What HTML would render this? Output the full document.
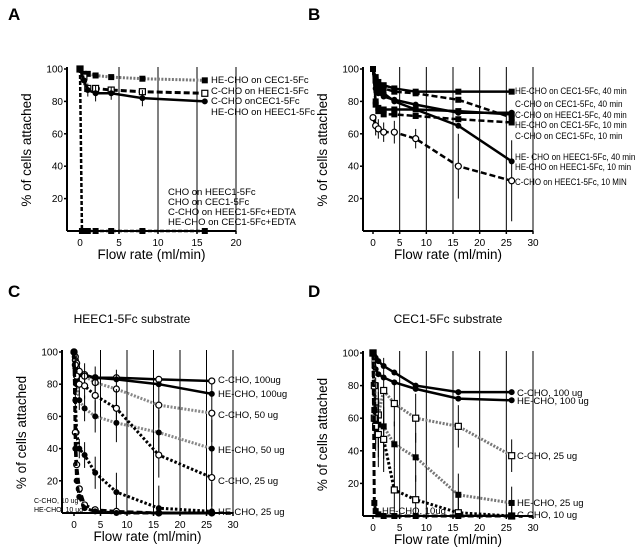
<!DOCTYPE html>
<html><head><meta charset="utf-8"><style>
body{margin:0;background:#fff}
svg{display:block;font-family:"Liberation Sans",sans-serif}
</style></head><body>
<svg id="fig" width="640" height="550" viewBox="0 0 640 550"></svg>
<script>
// ---- data ----
const xA=[0,0.5,1,2,4,8,16];
const aHeCec=[100,97,97,96,95,94,93];
const aCHeec=[100,95,88,88,87,86,85];
const aCCec=[100,93,87,85,85,82,80];
const aCCecErr=[0,3,4,5,4,5,1];
const aZeroX=[0,0.25,0.5,1,2,4,8,16];
const aZero=[100,0,0,0,0,0,0,0];

const xB=[0,0.5,1,2,4,8,16,26];
const b1=[100,95,92,90,88,86,86,86];
const b2=[100,93,90,88,86,85,81,70];
const b3=[100,88,85,83,81,78,73,73];
const b4=[100,92,88,85,80,75,65,43];
const b5=[100,80,76,75,75,75,74,72];
const b6=[100,78,74,72,72,71,69,67];
const b7=[70,65,63,61,61,57,40,31];
const bErr=[0,6,6,6,7,6,20,25];

const xC=[0,0.25,0.5,1,2,4,8,16,26];
const c1=[100,95,90,87,86,84,84,83,82];
const c2=[100,92,88,86,85,84,83,80,74];
const c3=[100,97,93,88,85,81,77,67,62];
const c4=[100,90,80,70,65,60,56,50,40];
const c5=[100,92,85,80,79,73,65,36,22];
const c6=[100,70,50,40,36,25,13,3,1];
const c7=[100,50,30,15,5,2,1,0,0];
const c8=[100,40,20,10,3,1,0,0,0];
const cErr=[0,4,5,6,8,10,12,14,18];

const xD=[0,0.25,0.5,1,2,4,8,16,26];
const d1=[100,98,97,95,92,88,80,76,76];
const d2=[100,95,90,87,85,82,78,72,71];
const d3=[100,80,70,62,77,69,60,55,37];
const d4=[100,65,59,56,55,44,36,13,8];
const d5=[100,60,55,50,47,16,10,2,0];
const d6=[100,8,3,1,0,0,0,0,0];
const dErr=[0,10,15,20,20,14,15,13,10];

const xTicksA=[0,5,10,15,20];
const xTicks30=[0,5,10,15,20,25,30];
const yTicks=[20,40,60,80,100];

const NS="http://www.w3.org/2000/svg";
const svg=document.getElementById('fig');
function el(tag,attrs,parent){const e=document.createElementNS(NS,tag);for(const k in attrs)e.setAttribute(k,attrs[k]);(parent||svg).appendChild(e);return e;}
function txt(s,x,y,size,extra,parent){const t=el('text',Object.assign({x:x,y:y,'font-size':size},extra||{}),parent);t.textContent=s;return t;}

function panel(p){
  const g=el('g',{});
  
  
  const sx=v=>p.x0+(v/p.xmax)*(p.x1-p.x0);
  const sy=v=>p.y0+(1-v/100)*(p.y0b-p.y0);
  const bottom=p.y0b;
  const L=txt(p.id,p.lx,p.ly,17,{'font-weight':'bold'},g);
  
  if(p.title){const T=txt(p.title,p.tx,p.ty,12,{'text-anchor':'middle'},g);
    }
  p.xticks.forEach(v=>{if(v>0){const l=el('line',{x1:sx(v),x2:sx(v),y1:p.y0-2,y2:bottom,stroke:'#000','stroke-width':1},g);
    }});
  const ya=el('line',{x1:p.ax,x2:p.ax,y1:p.y0-2,y2:bottom,stroke:'#000','stroke-width':2},g);
  
  const xa=el('line',{x1:p.ax,x2:sx(p.xmax),y1:bottom,y2:bottom,stroke:'#000','stroke-width':2},g);
  
  yTicks.forEach(v=>{el('line',{x1:p.ax-3,x2:p.ax,y1:sy(v),y2:sy(v),stroke:'#000','stroke-width':1.5},g);
    const t=txt(String(v),p.ax-4,sy(v)+3.5,10,{'text-anchor':'end'},g);
    });
  p.xticks.forEach(v=>{el('line',{x1:sx(v),x2:sx(v),y1:bottom,y2:bottom+3,stroke:'#000','stroke-width':1.5},g);
    const t=txt(String(v),sx(v),bottom+15,10,{'text-anchor':'middle'},g);
    });
  const xt=txt('Flow rate (ml/min)',(p.ax+sx(p.xmax))/2,bottom+28,13.5,{'text-anchor':'middle'},g);
  
  const cy=(p.y0+bottom)/2, cx=p.ax-36;
  const yt=txt('% of cells attached',cx,cy,13.5,{'text-anchor':'middle',transform:'rotate(-90 '+cx+' '+cy+')'},g);
  
  p.series.forEach((s,i)=>{
    const sg=el('g',{},g);
    
    
    const col=s.color||'#000';
    const pts=s.x.map((x,j)=>sx(x)+','+sy(s.y[j])).join(' ');
    const line=el('polyline',{points:pts,fill:'none',stroke:col,'stroke-width':s.w||2.5,'stroke-dasharray':s.dash||'none'},sg);
    
    s.x.forEach((x,j)=>{
      const X=sx(x),Y=sy(s.y[j]);
      if(s.err&&s.err[j]){const e=el('line',{x1:X,x2:X,y1:sy(Math.min(100,s.y[j]+s.err[j])),y2:sy(Math.max(0,s.y[j]-s.err[j])),stroke:'#000','stroke-width':1},sg);
        }
      let m;
      const r=s.r||3;
      if(s.m==='sq')m=el('rect',{x:X-r,y:Y-r,width:2*r,height:2*r,fill:'#000'},sg);
      else if(s.m==='osq')m=el('rect',{x:X-r,y:Y-r,width:2*r,height:2*r,fill:'#fff',stroke:'#000','stroke-width':1.2},sg);
      else if(s.m==='oc')m=el('circle',{cx:X,cy:Y,r:r,fill:'#fff',stroke:'#000','stroke-width':1.2},sg);
      else m=el('circle',{cx:X,cy:Y,r:r,fill:'#000'},sg);
      
    });
  });
  p.labels.forEach(l=>{
    const extra={};
    if(p.cw&&!l[3]){extra.textLength=(l[0].length*p.cw).toFixed(1);extra.lengthAdjust='spacingAndGlyphs';}
    const t=txt(l[0],l[1],l[2],l[3]||(p.lfs||9.5),extra,g);
    });
}

const DOT='2,1.5', DASH='6,3';
panel({id:'A',lx:8,ly:20,ax:67,x0:80,x1:236,xmax:20,y0:69,y0b:231,xticks:xTicksA,
 series:[
  {x:xA,y:aHeCec,dash:DOT,color:'#777',m:'sq',w:3},
  {x:xA,y:aCHeec,dash:DASH,m:'osq',w:3},
  {x:xA,y:aCCec,err:aCCecErr,m:'c',w:2.5},
  {x:aZeroX,y:aZero,dash:'4,2',m:'sq',w:2.5}],
 labels:[['HE-CHO on CEC1-5Fc',211,83],['C-CHO on HEEC1-5Fc',211,94],['C-CHO onCEC1-5Fc',211,104],['HE-CHO on HEEC1-5Fc',211,115],
  ['CHO on HEEC1-5Fc',168,195],['CHO on CEC1-5Fc',168,205],['C-CHO on HEEC1-5Fc+EDTA',168,215],['HE-CHO on CEC1-5Fc+EDTA',168,225]]});

panel({id:'B',lx:308,ly:20,ax:363,x0:373,x1:533,xmax:30,y0:69,y0b:231,xticks:xTicks30,cw:4.3,lfs:9,
 series:[
  {x:xB,y:b1,m:'sq'},
  {x:xB,y:b2,dash:DASH,m:'sq'},
  {x:xB,y:b3,m:'c'},
  {x:xB,y:b4,m:'c'},
  {x:xB,y:b5,m:'sq'},
  {x:xB,y:b6,dash:DASH,m:'sq'},
  {x:xB,y:b7,err:bErr,dash:DASH,m:'oc'}],
 labels:[['HE-CHO on CEC1-5Fc, 40 min',515,94],['C-CHO on CEC1-5Fc, 40 min',515,107],['C-CHO on HEEC1-5Fc, 40 min',515,118],
  ['HE-CHO on CEC1-5Fc, 10 min',515,128],['C-CHO on CEC1-5Fc, 10 min',515,139],['HE- CHO on HEEC1-5Fc, 40 min',515,160],
  ['HE-CHO on HEEC1-5Fc, 10 min',515,170],['C-CHO on HEEC1-5Fc, 10 MIN',515,185]]});

panel({id:'C',lx:8,ly:297,ax:62,x0:74,x1:233,xmax:30,y0:352,y0b:513,xticks:xTicks30,title:'HEEC1-5Fc substrate',tx:132,ty:323,
 series:[
  {x:xC,y:c1,m:'oc'},
  {x:xC,y:c2,m:'c'},
  {x:xC,y:c3,err:cErr,dash:DOT,color:'#888',m:'oc',w:3},
  {x:xC,y:c4,err:cErr,dash:DOT,color:'#888',m:'c',w:3},
  {x:xC,y:c5,err:cErr,dash:'2.5,2',m:'oc',w:3},
  {x:xC,y:c6,err:cErr,dash:'2.5,2',m:'c',w:3},
  {x:xC,y:c7,dash:DASH,m:'oc',w:3},
  {x:xC,y:c8,dash:DASH,m:'c',w:3}],
 labels:[['C-CHO, 100ug',218,383],['HE-CHO, 100ug',218,397],['C-CHO, 50 ug',218,418],['HE-CHO, 50 ug',218,453],
  ['C-CHO, 25 ug',218,484],['HE-CHO, 25 ug',218,515],['C-CHO, 10 ug',34,503,7],['HE-CHO, 10 ug',34,512,7]]});

panel({id:'D',lx:308,ly:297,ax:363,x0:373,x1:533,xmax:30,y0:353,y0b:516,xticks:xTicks30,title:'CEC1-5Fc substrate',tx:448,ty:323,
 series:[
  {x:xD,y:d1,m:'c'},
  {x:xD,y:d2,m:'c'},
  {x:xD,y:d3,err:dErr,dash:DOT,color:'#777',m:'osq',w:3},
  {x:xD,y:d4,err:dErr,dash:DOT,color:'#777',m:'sq',w:3},
  {x:xD,y:d5,err:dErr,dash:'2.5,2',m:'osq',w:3},
  {x:xD,y:d6,dash:DASH,m:'sq',w:3}],
 labels:[['C-CHO, 100 ug',517,396],['HE-CHO, 100 ug',517,404],['C-CHO, 25 ug',517,459],['HE-CHO, 25 ug',517,506],
  ['C-CHO, 10 ug',517,518],['HE-CHO, 10ug',382,514]]});
</script>
</body></html>
